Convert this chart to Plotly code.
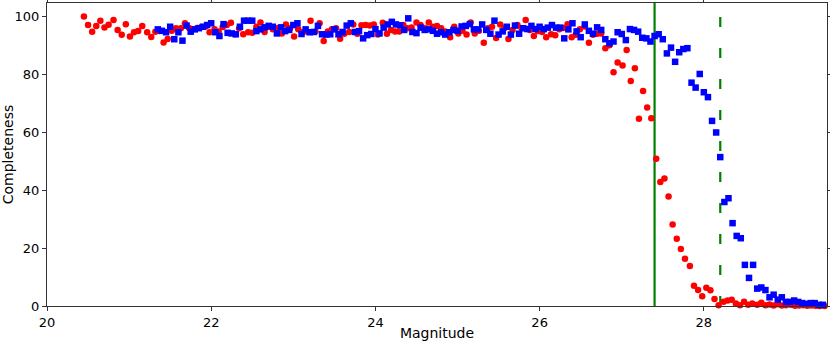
import plotly.graph_objects as go

# Red circles: bin centres (magnitude) and completeness (%)
red_mag = [20.45, 20.50, 20.55, 20.60, 20.65, 20.70, 20.75, 20.81, 20.86, 20.91,
           20.96, 21.01, 21.06, 21.11, 21.16, 21.22, 21.27, 21.32, 21.37, 21.42,
           21.47, 21.52, 21.57, 21.63, 21.68, 21.73, 21.78, 21.83, 21.88, 21.93,
           21.98, 22.04, 22.09, 22.14, 22.19, 22.24, 22.29, 22.34, 22.39, 22.45,
           22.50, 22.55, 22.60, 22.65, 22.70, 22.75, 22.80, 22.86, 22.91, 22.96,
           23.01, 23.06, 23.11, 23.16, 23.21, 23.27, 23.32, 23.37, 23.42, 23.47,
           23.52, 23.57, 23.62, 23.68, 23.73, 23.78, 23.83, 23.88, 23.93, 23.98,
           24.03, 24.09, 24.14, 24.19, 24.24, 24.29, 24.34, 24.39, 24.44, 24.50,
           24.55, 24.60, 24.65, 24.70, 24.75, 24.80, 24.85, 24.91, 24.96, 25.01,
           25.06, 25.11, 25.16, 25.21, 25.26, 25.32, 25.37, 25.42, 25.47, 25.52,
           25.57, 25.62, 25.67, 25.73, 25.78, 25.83, 25.88, 25.93, 25.98, 26.03,
           26.08, 26.14, 26.19, 26.24, 26.29, 26.34, 26.39, 26.44, 26.49, 26.55,
           26.60, 26.65, 26.70, 26.75, 26.80, 26.85, 26.90, 26.95, 27.01, 27.06,
           27.11, 27.16, 27.21, 27.26, 27.31, 27.36, 27.42, 27.47, 27.52, 27.57,
           27.62, 27.67, 27.72, 27.77, 27.83, 27.88, 27.93, 27.98, 28.03, 28.08,
           28.13, 28.18, 28.24, 28.29, 28.34, 28.39, 28.44, 28.49, 28.54, 28.59,
           28.65, 28.70, 28.75, 28.80, 28.85, 28.90, 28.95, 29.00, 29.06, 29.11,
           29.16, 29.21, 29.26, 29.31, 29.36, 29.41, 29.47]
red_comp = [99.9, 97.0, 94.7, 96.7, 98.5, 96.1, 97.1, 98.7, 95.3, 93.6,
            97.3, 93.0, 94.5, 94.9, 96.7, 94.5, 92.9, 94.7, 94.9, 91.0,
            92.2, 95.0, 95.9, 95.9, 97.6, 96.0, 95.5, 96.0, 96.3, 96.5,
            94.5, 95.5, 94.8, 96.3, 97.0, 97.8, 93.8, 95.9, 93.8, 94.5,
            94.3, 96.4, 97.9, 94.6, 96.4, 95.5, 95.9, 94.1, 97.2, 95.9,
            93.0, 95.5, 94.5, 94.8, 98.5, 94.8, 97.6, 91.5, 94.8, 95.5,
            95.9, 92.3, 94.0, 94.6, 97.2, 94.0, 96.9, 97.0, 96.8, 97.2,
            93.7, 97.8, 94.0, 95.3, 94.8, 94.8, 97.0, 95.9, 96.1, 97.9,
            97.0, 96.0, 97.9, 96.4, 96.7, 95.9, 94.8, 92.8, 96.4, 94.1,
            95.0, 93.7, 97.9, 94.1, 95.0, 90.9, 95.9, 96.4, 92.5, 97.2,
            95.9, 92.2, 95.3, 97.0, 95.9, 98.7, 95.3, 93.2, 94.9, 94.6,
            92.8, 93.8, 93.5, 95.5, 96.0, 97.3, 92.8, 93.6, 95.5, 96.5,
            90.9, 93.6, 94.0, 94.1, 89.0, 90.0, 80.7, 84.1, 83.0, 88.4,
            77.7, 82.1, 64.6, 74.2, 68.5, 64.8, 50.8, 42.8, 44.0, 37.8,
            28.1, 23.2, 19.7, 16.3, 13.8, 7.0, 5.5, 3.4, 6.3, 5.4,
            2.4, 0.3, 1.5, 1.9, 2.2, 0.9, 0.3, 1.5, 0.4, 0.9,
            0.4, 1.1, 0.3, 0.5, 0.2, 0.6, 0.2, 0.3, 0.4, 0.1,
            0.2, 0.3, 0.1, 0.2, 0.1, 0.0, 0.0]

# Blue squares: bin centres (magnitude) and completeness (%)
blue_mag = [21.35, 21.40, 21.45, 21.50, 21.55, 21.60, 21.65, 21.70, 21.75, 21.80,
            21.85, 21.90, 21.95, 22.00, 22.05, 22.10, 22.15, 22.20, 22.25, 22.30,
            22.35, 22.40, 22.45, 22.50, 22.55, 22.60, 22.65, 22.70, 22.75, 22.80,
            22.85, 22.90, 22.95, 23.00, 23.05, 23.10, 23.15, 23.20, 23.25, 23.30,
            23.35, 23.40, 23.45, 23.50, 23.55, 23.60, 23.65, 23.70, 23.75, 23.80,
            23.85, 23.90, 23.95, 24.00, 24.05, 24.10, 24.15, 24.20, 24.25, 24.30,
            24.35, 24.40, 24.45, 24.50, 24.55, 24.60, 24.65, 24.70, 24.75, 24.80,
            24.85, 24.90, 24.95, 25.00, 25.05, 25.10, 25.15, 25.20, 25.25, 25.30,
            25.35, 25.40, 25.45, 25.50, 25.55, 25.60, 25.65, 25.70, 25.75, 25.80,
            25.85, 25.90, 25.95, 26.00, 26.05, 26.10, 26.15, 26.20, 26.25, 26.30,
            26.35, 26.40, 26.45, 26.50, 26.55, 26.60, 26.65, 26.70, 26.75, 26.80,
            26.85, 26.90, 26.95, 27.00, 27.05, 27.10, 27.15, 27.20, 27.25, 27.30,
            27.35, 27.40, 27.45, 27.50, 27.55, 27.60, 27.65, 27.70, 27.75, 27.80,
            27.85, 27.90, 27.95, 28.00, 28.05, 28.10, 28.15, 28.20, 28.25, 28.30,
            28.35, 28.40, 28.45, 28.50, 28.55, 28.60, 28.65, 28.70, 28.75, 28.80,
            28.85, 28.90, 28.95, 29.00, 29.05, 29.10, 29.15, 29.20, 29.25, 29.30,
            29.35, 29.40, 29.45]
blue_comp = [95.5, 95.0, 94.5, 96.4, 92.1, 94.5, 91.6, 96.8, 94.7, 95.5,
             95.9, 96.4, 97.0, 97.6, 94.5, 93.2, 97.3, 94.3, 94.1, 93.8,
             96.4, 98.5, 98.5, 98.5, 94.9, 95.5, 96.2, 96.7, 96.4, 94.1,
             96.2, 94.9, 95.3, 97.0, 97.6, 93.9, 95.5, 94.5, 94.6, 96.7,
             93.8, 93.7, 93.8, 95.5, 93.8, 94.6, 96.8, 97.6, 94.6, 94.9,
             92.4, 93.5, 93.9, 95.6, 94.1, 96.1, 97.2, 98.1, 97.2, 96.9,
             95.3, 99.3, 94.6, 94.2, 96.1, 95.3, 95.5, 95.0, 94.0, 94.5,
             93.7, 94.5, 95.3, 95.0, 96.5, 96.7, 97.3, 95.5, 95.5, 97.2,
             95.3, 94.0, 98.5, 93.7, 94.8, 96.4, 93.7, 96.8, 94.0, 95.9,
             95.6, 96.7, 95.6, 96.4, 95.6, 96.1, 97.0, 96.1, 96.1, 92.4,
             95.5, 97.6, 94.8, 92.8, 97.2, 95.0, 94.0, 96.2, 95.3, 92.1,
             90.7, 91.3, 94.5, 93.9, 91.8, 95.6, 95.3, 94.7, 92.6, 92.4,
             91.3, 93.2, 93.8, 92.1, 87.2, 89.2, 84.3, 87.6, 88.7, 89.0,
             77.1, 75.4, 80.1, 73.8, 72.1, 63.9, 59.9, 51.4, 35.9, 37.2,
             28.6, 24.2, 23.4, 14.2, 9.7, 14.2, 6.0, 6.4, 5.5, 3.0,
             3.9, 2.2, 3.0, 1.4, 1.4, 1.9, 1.4, 1.0, 0.7, 1.0,
             1.0, 0.4, 0.4]

limit_solid = 27.4
limit_dashed = 28.2

x_ticks = [20, 22, 24, 26, 28]
y_ticks = [0, 20, 40, 60, 80, 100]

fig = go.Figure()
fig.add_trace(go.Scatter(
    x=red_mag, y=red_comp, mode="markers",
    marker=dict(symbol="circle", size=6.5, color="#ff0000", line=dict(width=0)),
    showlegend=False, cliponaxis=False))
fig.add_trace(go.Scatter(
    x=blue_mag, y=blue_comp, mode="markers",
    marker=dict(symbol="square", size=6.5, color="#0000ff", line=dict(width=0)),
    showlegend=False, cliponaxis=False))

fig.add_vline(x=limit_solid, line=dict(color="#008000", width=2.2), layer="below")
fig.add_vline(x=limit_dashed, line=dict(color="#008000", width=2.2, dash="10px,21px"), layer="below")

axis_common = dict(showgrid=False, zeroline=False, showline=True, linecolor="#333333",
                   linewidth=1, mirror="ticks", ticks="outside", ticklen=4,
                   tickcolor="#333333", automargin=False,
                   tickfont=dict(family="DejaVu Sans", size=13, color="black"))

fig.update_xaxes(range=[20, 29.5], tickvals=x_ticks,
                 title=dict(text="Magnitude", font=dict(family="DejaVu Sans", size=14, color="black"), standoff=2),
                 **axis_common)
fig.update_yaxes(range=[0, 104.6], tickvals=y_ticks,
                 title=dict(text="Completeness", font=dict(family="DejaVu Sans", size=14, color="black"), standoff=4),
                 **axis_common)

fig.update_layout(
    width=830, height=341,
    margin=dict(l=47, r=3, t=3, b=35),
    plot_bgcolor="white", paper_bgcolor="white",
    font=dict(family="DejaVu Sans"),
)

fig.write_html("out.html", config={"displayModeBar": False},
               post_script="document.body.style.margin='0';document.body.style.overflow='hidden';")
